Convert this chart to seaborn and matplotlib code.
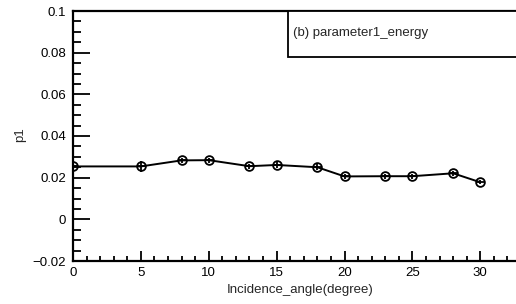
import matplotlib
matplotlib.use("Agg")
import matplotlib.pyplot as plt
import matplotlib.ticker as mticker
import seaborn as sns
import pandas as pd

angles = [0, 5, 8, 10, 13, 15, 18, 20, 23, 25, 28, 30]
p1 = [0.0254, 0.0254, 0.0283, 0.0284, 0.0255, 0.0261, 0.0250, 0.0206, 0.0207, 0.0207, 0.0221, 0.0178]
p1_err = [0.0008, 0.0025, 0.0013, 0.0012, 0.0013, 0.0014, 0.0014, 0.0011, 0.0011, 0.0011, 0.0012, 0.0009]

df = pd.DataFrame({"angle": angles, "p1": p1, "err": p1_err})

sns.set_style("white")
plt.rcParams["font.family"] = ["Liberation Sans", "DejaVu Sans"]

W, H = 516, 304
fig = plt.figure(figsize=(W / 100, H / 100), dpi=100)
ax = fig.add_axes([73 / W, 43 / H, (521 - 73) / W, 250 / H])

sns.lineplot(data=df, x="angle", y="p1", ax=ax, color="black", lw=1.4,
             marker="o", markersize=6.3, markerfacecolor="none",
             markeredgecolor="black", markeredgewidth=1.3, zorder=3)
ax.errorbar(df["angle"], df["p1"], yerr=df["err"], fmt="none",
            ecolor="black", elinewidth=1.3, capsize=0, zorder=4)
ax.plot(df["angle"], df["p1"], ls="none", marker="_", markersize=6.3,
        color="black", markeredgewidth=1.3, zorder=4)

ax.set_xlim(0, 33)
ax.set_ylim(-0.02, 0.1)
ax.xaxis.set_major_locator(mticker.MultipleLocator(5))
ax.xaxis.set_minor_locator(mticker.MultipleLocator(1))
ax.yaxis.set_major_locator(mticker.MultipleLocator(0.02))
ax.yaxis.set_minor_locator(mticker.MultipleLocator(0.005))
ax.yaxis.set_major_formatter(mticker.FuncFormatter(
    lambda v, p: ("%g" % round(v, 4)).replace("-", "\u2212")))
ax.xaxis.set_major_formatter(mticker.FuncFormatter(lambda v, p: "%g" % v))

ax.tick_params(axis="both", which="both", direction="in", labelsize=9.5,
               color="black", labelcolor="black", top=False, right=False)
ax.tick_params(axis="y", which="major", length=12, width=1.3, pad=5)
ax.tick_params(axis="y", which="minor", length=6, width=1.3)
ax.tick_params(axis="x", which="major", length=7, width=1.3, pad=4)
ax.tick_params(axis="x", which="minor", length=3.5, width=1.3)
ax.yaxis.set_ticks_position("left")
ax.xaxis.set_ticks_position("bottom")
for s in ax.spines.values():
    s.set_linewidth(1.6)
    s.set_color("black")

ax.set_xlabel("")
ax.set_ylabel("")
fig.text(374 / W, 1 - 290 / H, "Incidence_angle(degree)", ha="right",
         va="center", fontsize=9.5)
fig.text(20 / W, 1 - 135 / H, "p1", rotation=90, ha="center", va="center",
         fontsize=9.5)

box = plt.Rectangle((288 / W, 1 - 57 / H), 1, 46 / H, transform=fig.transFigure,
                    fill=True, facecolor="white", edgecolor="black", lw=1.3,
                    zorder=10)
fig.patches.append(box)
fig.text(293 / W, 1 - 33 / H, "(b) parameter1_energy", ha="left", va="center",
         fontsize=9.5, zorder=11)

fig.savefig("out.png", dpi=100)
